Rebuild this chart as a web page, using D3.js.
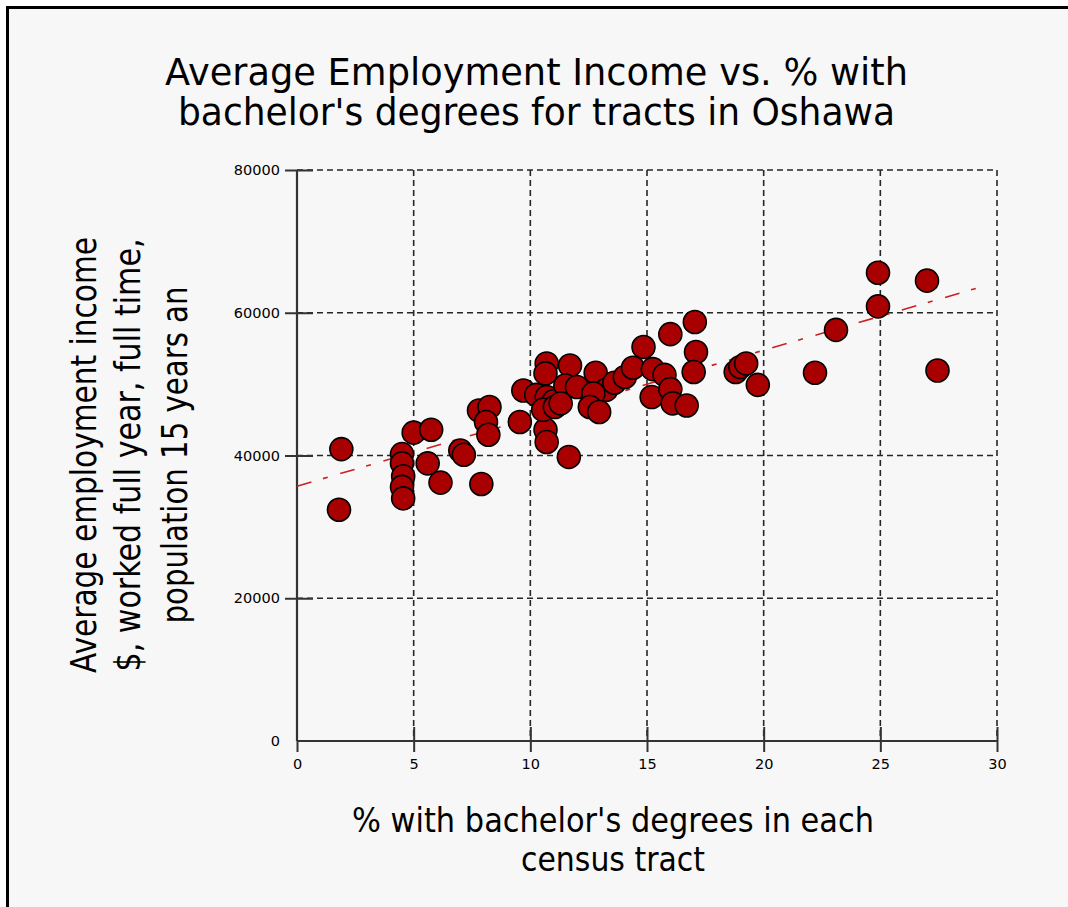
<!DOCTYPE html>
<html>
<head>
<meta charset="utf-8">
<script src="https://cdn.jsdelivr.net/npm/d3@7"></script>
<style>
  html, body { margin: 0; padding: 0; background: #ffffff; overflow: hidden; }
  svg { display: block; overflow: hidden; }
  text { font-family: "DejaVu Sans", Verdana, sans-serif; fill: #000; }
</style>
</head>
<body>
<svg id="chart" width="1068" height="907"></svg>
<script>
// Census tracts in Oshawa: % with bachelor's degrees vs. average employment income
const pctBachelor = [
  1.8, 1.9, 4.5, 4.5, 4.55, 4.5, 4.55, 5.0, 5.75, 5.6,
  6.15, 7.0, 7.15, 7.9, 7.8, 8.25, 8.1, 8.2, 9.55, 9.7,
  10.65, 10.7, 11.65, 10.7, 10.65, 11.7, 10.25, 10.7, 11.0, 11.5,
  12.0, 10.55, 11.05, 11.3, 12.8, 13.25, 12.7, 12.55, 12.95, 13.6,
  14.05, 14.4, 14.85, 15.25, 15.75, 15.2, 16.0, 16.1, 16.7, 16.0,
  17.1, 17.05, 17.0, 18.8, 19.0, 19.25, 19.75, 22.2, 23.1, 24.9,
  24.9, 27.0, 27.45
];
const avgIncome = [
  32400, 40900, 40200, 38900, 37100, 35600, 34000, 43200, 43600, 38900,
  36200, 40700, 40100, 36000, 46300, 46800, 44700, 42900, 44700, 49100,
  43600, 41900, 39800, 52900, 51500, 52600, 48500, 48200, 47600, 49800,
  49600, 46400, 46800, 47300, 51600, 49200, 48700, 46800, 46100, 50200,
  51000, 52300, 55200, 52100, 51300, 48200, 49300, 47300, 47000, 57000,
  54500, 58700, 51700, 51700, 52400, 52900, 49900, 51600, 57600, 65600,
  60900, 64500, 51900
];

// Fitted trend line end points
const trendX = [0, 29.4];
const trendY = [35700, 63700];

const xTicks = [0, 5, 10, 15, 20, 25, 30];
const yTicks = [0, 20000, 40000, 60000, 80000];

const titleLines = ["Average Employment Income vs. % with", "bachelor's degrees for tracts in Oshawa"];
const xTitleLines = ["% with bachelor's degrees in each", "census tract"];
const yTitleLines = ["Average employment income", "$, worked full year, full time,", "population 15 years an"];

const svg = d3.select("#chart");

// Panel background and frame
svg.append("rect")
  .attr("x", 7.5).attr("y", 7.5)
  .attr("width", 1080).attr("height", 920)
  .attr("fill", "#f7f7f7")
  .attr("stroke", "#000").attr("stroke-width", 3);

const x = d3.scaleLinear().domain([0, 30]).range([297, 997]);
const y = d3.scaleLinear().domain([0, 80000]).range([741, 170]);

const gridColor = "#262626";

// Dashed grid
const grid = svg.append("g");
grid.selectAll("line.h")
  .data(yTicks.filter(d => d > 0))
  .join("line")
  .attr("x1", x(0)).attr("x2", x(30))
  .attr("y1", d => y(d)).attr("y2", d => y(d))
  .attr("stroke", gridColor).attr("stroke-width", 1.6)
  .attr("stroke-dasharray", "6,4");
grid.selectAll("line.v")
  .data(xTicks.filter(d => d > 0))
  .join("line")
  .attr("x1", d => x(d)).attr("x2", d => x(d))
  .attr("y1", y(80000)).attr("y2", y(0))
  .attr("stroke", gridColor).attr("stroke-width", 1.6)
  .attr("stroke-dasharray", "6,4");

// Axes
const axisColor = "#333";
const yAxis = svg.append("g").attr("transform", `translate(${x(0)},0)`)
  .call(d3.axisLeft(y).tickValues(yTicks).tickSize(12).tickPadding(5).tickFormat(d3.format("d")));
const yAxisIn = svg.append("g").attr("transform", `translate(${x(0)},0)`)
  .call(d3.axisRight(y).tickValues(yTicks.filter(d => d > 0)).tickSize(16).tickFormat(""));
const xAxis = svg.append("g").attr("transform", `translate(0,${y(0)})`)
  .call(d3.axisBottom(x).tickValues(xTicks).tickSize(11).tickPadding(5).tickFormat(d3.format("d")));
const xAxisIn = svg.append("g").attr("transform", `translate(0,${y(0)})`)
  .call(d3.axisTop(x).tickValues(xTicks.filter(d => d > 0)).tickSize(14).tickFormat(""));

[yAxis, yAxisIn, xAxis, xAxisIn].forEach(g => {
  g.select(".domain").remove();
  g.selectAll(".tick line").attr("stroke", axisColor).attr("stroke-width", 2);
  g.selectAll(".tick text")
    .attr("font-family", "DejaVu Sans, sans-serif")
    .attr("font-size", 14.5).attr("fill", "#111");
});
xAxis.selectAll(".tick text").attr("dy", "0.8em");
// the 0 tick on the income axis has no tick mark
yAxis.selectAll(".tick").filter(d => d === 0).select("line").remove();

// Axis lines
svg.append("line")
  .attr("x1", x(0)).attr("x2", x(0)).attr("y1", y(80000)).attr("y2", y(0))
  .attr("stroke", axisColor).attr("stroke-width", 2.2);
svg.append("line")
  .attr("x1", x(0)).attr("x2", x(30)).attr("y1", y(0)).attr("y2", y(0))
  .attr("stroke", axisColor).attr("stroke-width", 2.2);

// Trend line
svg.append("path")
  .datum(trendX.map((d, i) => [d, trendY[i]]))
  .attr("d", d3.line().x(d => x(d[0])).y(d => y(d[1])))
  .attr("fill", "none")
  .attr("stroke", "#cc2020").attr("stroke-width", 1.6)
  .attr("stroke-dasharray", "15,12,5,13");

// Points
svg.append("g").selectAll("circle")
  .data(pctBachelor.map((d, i) => ({ px: d, inc: avgIncome[i] })))
  .join("circle")
  .attr("cx", d => x(d.px))
  .attr("cy", d => y(d.inc))
  .attr("r", 11.5)
  .attr("fill", "#a80000")
  .attr("stroke", "#000").attr("stroke-width", 1.6);

// Title
svg.append("g").selectAll("text")
  .data(titleLines)
  .join("text")
  .attr("x", 536.5)
  .attr("y", (d, i) => 85 + i * 40)
  .attr("text-anchor", "middle")
  .attr("font-size", 37)
  .attr("textLength", (d, i) => [743, 717][i])
  .attr("lengthAdjust", "spacingAndGlyphs")
  .text(d => d);

// X axis title
svg.append("g").selectAll("text")
  .data(xTitleLines)
  .join("text")
  .attr("x", 613)
  .attr("y", (d, i) => 832 + i * 39)
  .attr("text-anchor", "middle")
  .attr("font-size", 33)
  .attr("textLength", (d, i) => [522, 184][i])
  .attr("lengthAdjust", "spacingAndGlyphs")
  .text(d => d);

// Y axis title (rotated)
svg.append("g")
  .attr("transform", "translate(0,455) rotate(-90)")
  .selectAll("text")
  .data(yTitleLines)
  .join("text")
  .attr("x", 0)
  .attr("y", (d, i) => [96, 140, 187][i])
  .attr("text-anchor", "middle")
  .attr("font-size", 35)
  .attr("textLength", (d, i) => [436, 433, 337][i])
  .attr("lengthAdjust", "spacingAndGlyphs")
  .text(d => d);
</script>
</body>
</html>
